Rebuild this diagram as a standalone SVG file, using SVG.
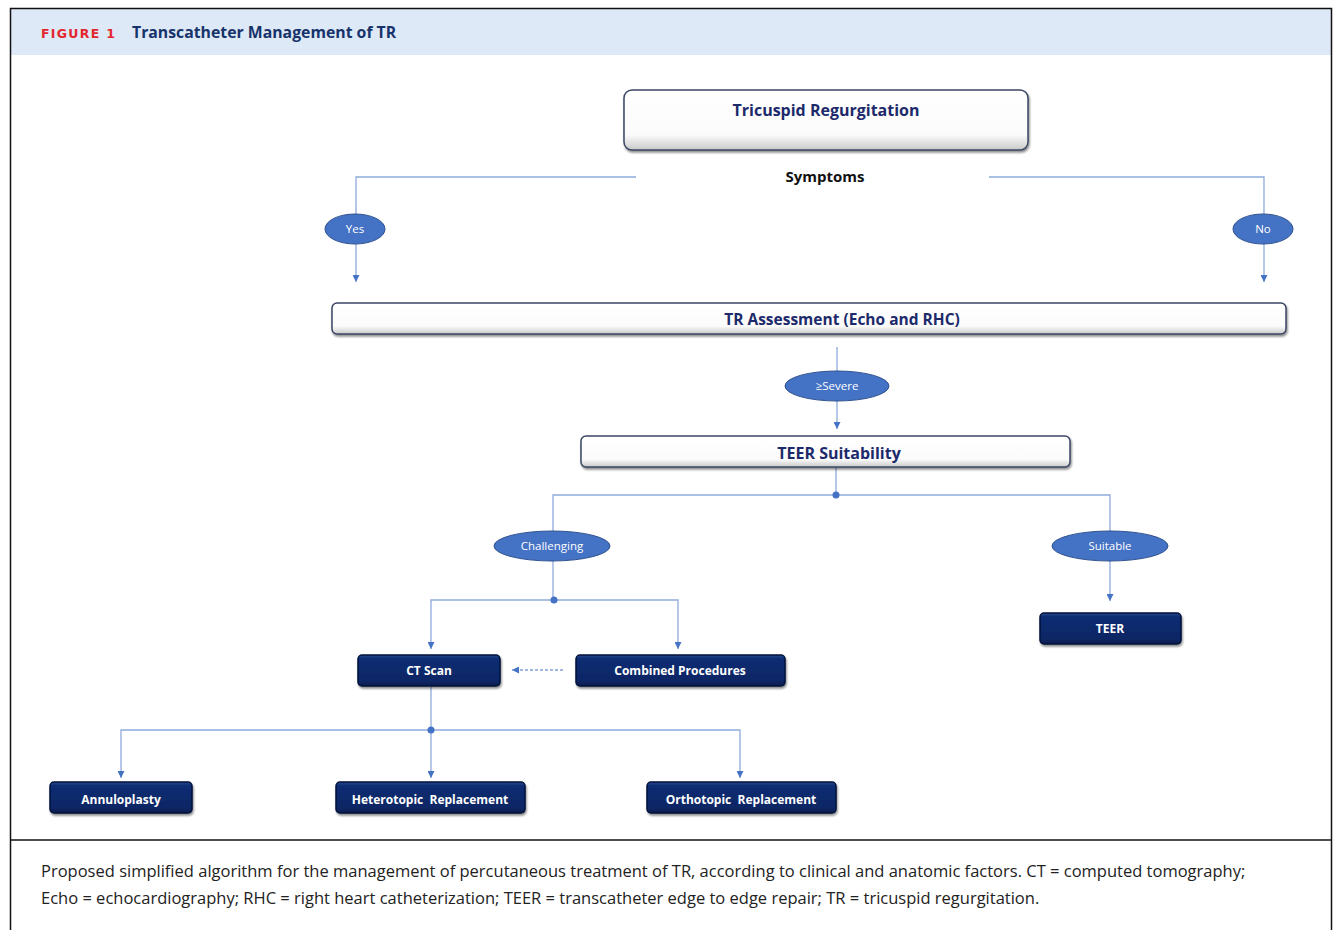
<svg xmlns="http://www.w3.org/2000/svg" width="1335" height="930" viewBox="0 0 1335 930">
<defs>
<linearGradient id="gW" x1="0" y1="0" x2="0" y2="1">
<stop offset="0" stop-color="#ffffff"/><stop offset="0.75" stop-color="#fbfbfb"/><stop offset="1" stop-color="#c9c9c9"/>
</linearGradient>
<linearGradient id="gD" x1="0" y1="0" x2="0" y2="1">
<stop offset="0" stop-color="#2a4a8e"/><stop offset="0.12" stop-color="#0f2d73"/><stop offset="0.85" stop-color="#0a2664"/><stop offset="1" stop-color="#061a4a"/>
</linearGradient>
<marker id="ar" viewBox="0 0 10 10" refX="10" refY="5" markerWidth="7" markerHeight="7" orient="auto" markerUnits="userSpaceOnUse">
<path d="M0,0 L10,5 L0,10 z" fill="#4472c4"/>
</marker>
<filter id="sh" x="-5%" y="-20%" width="110%" height="150%">
<feDropShadow dx="1" dy="2" stdDeviation="1.2" flood-color="#000" flood-opacity="0.45"/>
</filter>
</defs>
<style>
.wbox{fill:url(#gW);stroke:#3a4663;stroke-width:1.5;filter:url(#sh)}
.dbox{fill:url(#gD);stroke:#05133a;stroke-width:1.5;filter:url(#sh)}
.wt{font-family:"Open Sans","Liberation Sans",sans-serif;font-weight:bold;fill:#1c2a6b;text-anchor:middle}
.dt{font-family:"Open Sans","Liberation Sans",sans-serif;font-weight:bold;fill:#ffffff;font-size:12px;text-anchor:middle}
.ell{fill:#4472c4;stroke:#2f528f;stroke-width:1}
.et{font-family:"Open Sans","Liberation Sans",sans-serif;fill:#ffffff;font-size:11.5px;text-anchor:middle}
.ln{fill:none;stroke:#8faadc;stroke-width:1.3}
.lna{fill:none;stroke:#8faadc;stroke-width:1.3;marker-end:url(#ar)}
.dot{fill:#4472c4}
.cap{font-family:"Open Sans","Liberation Sans",sans-serif;font-size:16.5px;fill:#222222}
</style>
<rect x="0" y="0" width="1335" height="930" fill="#ffffff"/>
<!-- frame -->
<rect x="10" y="9" width="1321" height="46" fill="#dde9f6"/>
<path d="M10.5,930 L10.5,8.5 L1331.5,8.5 L1331.5,930" fill="none" stroke="#111111" stroke-width="1.5"/>
<line x1="10" y1="840" x2="1331" y2="840" stroke="#111111" stroke-width="1.5"/>
<text x="41" y="38" font-family="'DejaVu Sans','Liberation Sans',sans-serif" font-weight="bold" font-size="12.5" fill="#e4262e" letter-spacing="1.3">FIGURE 1</text>
<text x="132" y="38" font-family="'Open Sans','Liberation Sans',sans-serif" font-weight="bold" font-size="15.8" fill="#17336b">Transcatheter Management of TR</text>

<g id="connectors">
<polyline class="ln" points="636,177 356,177 356,214"/>
<line class="lna" x1="356" y1="244" x2="356" y2="282"/>
<polyline class="ln" points="989,177 1264,177 1264,214"/>
<line class="lna" x1="1264" y1="244" x2="1264" y2="282"/>
<line class="ln" x1="837" y1="347" x2="837" y2="371"/>
<line class="lna" x1="837" y1="401" x2="837" y2="429"/>
<line class="ln" x1="836" y1="468" x2="836" y2="495"/>
<polyline class="ln" points="553,531 553,495 1110,495 1110,531"/>
<circle class="dot" cx="836" cy="495" r="3.5"/>
<line class="ln" x1="553" y1="561" x2="553" y2="600"/>
<line class="lna" x1="1110" y1="561" x2="1110" y2="601"/>
<polyline class="lna" points="554,600 431,600 431,649"/>
<polyline class="lna" points="554,600 678,600 678,649"/>
<circle class="dot" cx="554" cy="600" r="3.5"/>
<line x1="563" y1="670" x2="512" y2="670" stroke="#4472c4" stroke-width="1" stroke-dasharray="3,2" marker-end="url(#ar)"/>
<line class="ln" x1="431" y1="687" x2="431" y2="730"/>
<polyline class="lna" points="431,730 121,730 121,778"/>
<line class="lna" x1="431" y1="730" x2="431" y2="778"/>
<polyline class="lna" points="431,730 740,730 740,778"/>
<circle class="dot" cx="431" cy="730" r="3.5"/>
</g>

<g id="n-tr">
<rect class="wbox" x="624" y="90" width="404" height="60" rx="8"/>
<text class="wt" x="826" y="116" font-size="16">Tricuspid Regurgitation</text>
</g>
<g id="n-symptoms">
<text x="825" y="182" font-family="'Open Sans','Liberation Sans',sans-serif" font-weight="bold" font-size="15" fill="#111111" text-anchor="middle">Symptoms</text>
</g>
<g id="n-yes">
<ellipse class="ell" cx="355" cy="229" rx="30" ry="15"/>
<text class="et" x="355" y="233">Yes</text>
</g>
<g id="n-no">
<ellipse class="ell" cx="1263" cy="229" rx="30" ry="15"/>
<text class="et" x="1263" y="233">No</text>
</g>
<g id="n-assess">
<rect class="wbox" x="332" y="303" width="954" height="31" rx="5"/>
<text class="wt" x="842" y="325" font-size="15.5">TR Assessment (Echo and RHC)</text>
</g>
<g id="n-severe">
<ellipse class="ell" cx="837" cy="386" rx="52" ry="15"/>
<text class="et" x="837" y="390">≥Severe</text>
</g>
<g id="n-teer-suit">
<rect class="wbox" x="581" y="436" width="489" height="31" rx="5"/>
<text class="wt" x="839" y="459" font-size="16">TEER Suitability</text>
</g>
<g id="n-challenging">
<ellipse class="ell" cx="552" cy="546" rx="58" ry="15"/>
<text class="et" x="552" y="550">Challenging</text>
</g>
<g id="n-suitable">
<ellipse class="ell" cx="1110" cy="546" rx="58" ry="15"/>
<text class="et" x="1110" y="550">Suitable</text>
</g>
<g id="n-teer">
<rect class="dbox" x="1040" y="613" width="141" height="31" rx="4"/>
<text class="dt" x="1110" y="633">TEER</text>
</g>
<g id="n-ct">
<rect class="dbox" x="358" y="655" width="142" height="31" rx="4"/>
<text class="dt" x="429" y="675">CT Scan</text>
</g>
<g id="n-combined">
<rect class="dbox" x="576" y="655" width="209" height="31" rx="4"/>
<text class="dt" x="680" y="675">Combined Procedures</text>
</g>
<g id="n-annulo">
<rect class="dbox" x="50" y="782" width="142" height="31" rx="4"/>
<text class="dt" x="121" y="804">Annuloplasty</text>
</g>
<g id="n-hetero">
<rect class="dbox" x="336" y="782" width="189" height="31" rx="4"/>
<text class="dt" x="430" y="804" font-size="11.5">Heterotopic&#160; Replacement</text>
</g>
<g id="n-ortho">
<rect class="dbox" x="647" y="782" width="189" height="31" rx="4"/>
<text class="dt" x="741" y="804" font-size="11.5">Orthotopic&#160; Replacement</text>
</g>

<text class="cap" x="41" y="877">Proposed simplified algorithm for the management of percutaneous treatment of TR, according to clinical and anatomic factors. CT = computed tomography;</text>
<text class="cap" x="41" y="904">Echo = echocardiography; RHC = right heart catheterization; TEER = transcatheter edge to edge repair; TR = tricuspid regurgitation.</text>
</svg>
